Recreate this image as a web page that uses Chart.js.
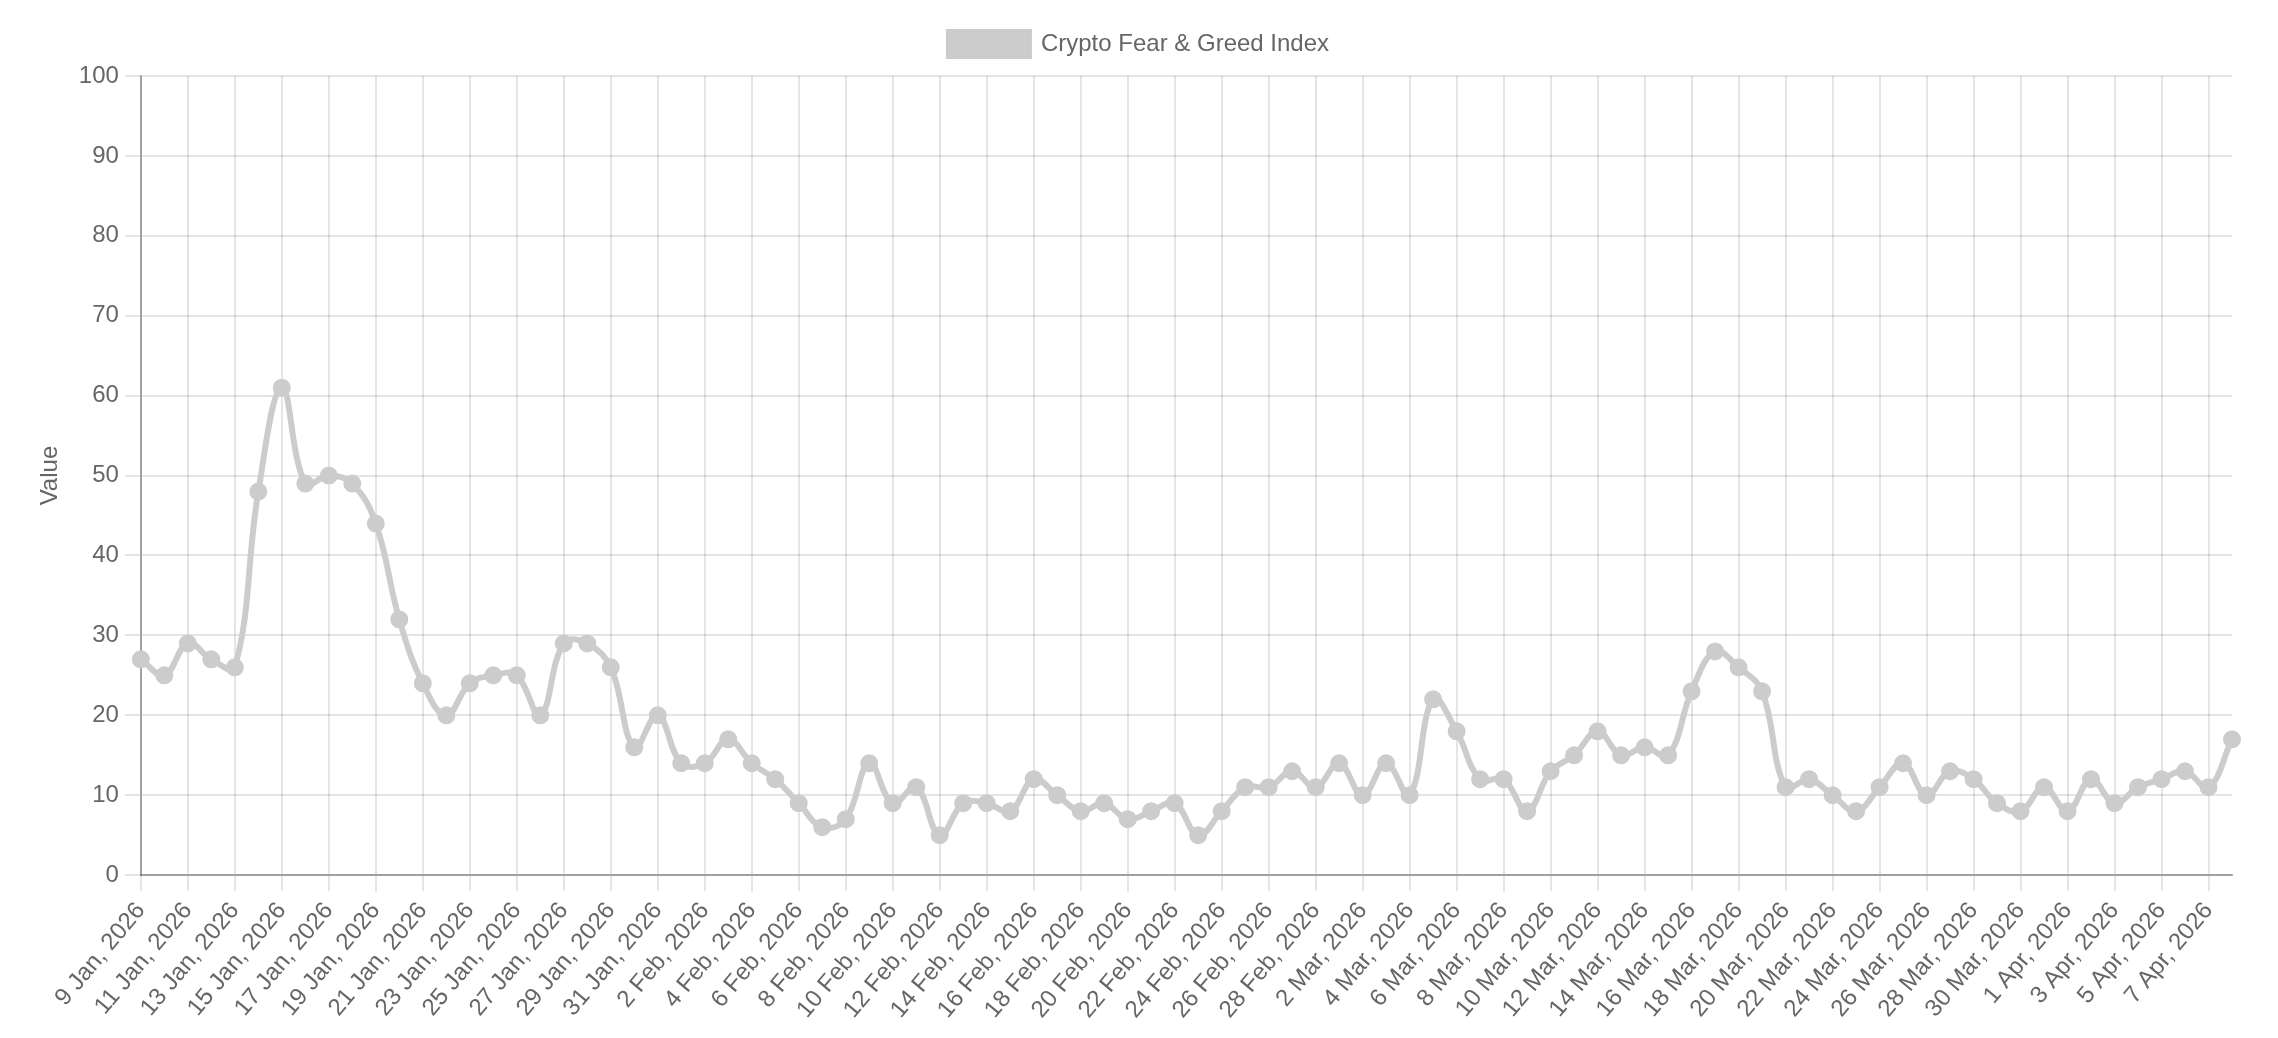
<!DOCTYPE html>
<html>
<head>
<meta charset="utf-8">
<script src="https://cdn.jsdelivr.net/npm/chart.js@4"></script>
<style>
  html, body { margin: 0; padding: 0; background: #fff; }
  body { width: 2278px; height: 1038px; position: relative; }
  #wrap { position: absolute; left: 0; top: 0; width: 1139px; height: 519px; transform: scale(2); transform-origin: 0 0; }
</style>
</head>
<body>
<div id="wrap"><canvas id="lineChart"></canvas></div>
<script>
// daily index values, 9 Jan 2026 .. 8 Apr 2026
const startDate = [2026, 0, 9]
const monthNames = ['Jan', 'Feb', 'Mar', 'Apr', 'May', 'Jun', 'Jul', 'Aug', 'Sep', 'Oct', 'Nov', 'Dec']

const fearGreed = [
  27, 25, 29, 27, 26, 48, 61, 49, 50, 49, 44, 32, 24, 20, 24, 25, 25, 20, 29, 29, 26, 16, 20,
  14, 14, 17, 14, 12, 9, 6, 7, 14, 9, 11, 5, 9, 9, 8, 12, 10, 8, 9, 7, 8, 9, 5, 8, 11, 11, 13, 11,
  14, 10, 14, 10, 22, 18, 12, 12, 8, 13, 15, 18, 15, 16, 15, 23, 28, 26, 23, 11, 12, 10, 8, 11, 14, 10, 13, 12, 9, 8, 11,
  8, 12, 9, 11, 12, 13, 11, 17
]

const yTicks = { min: 0, max: 100, step: 10 }

const labels = []
for (let i = 0; i < fearGreed.length; i++) {
  const d = new Date(startDate[0], startDate[1], startDate[2] + i)
  labels.push(d.getDate() + ' ' + monthNames[d.getMonth()] + ', ' + d.getFullYear())
}

const data = {
  labels: labels,
  datasets: [{
    label: 'Crypto Fear & Greed Index',
    data: fearGreed,
    borderColor: 'rgb(204,204,204)',
    backgroundColor: 'rgb(204,204,204)',
    borderWidth: 3,
    pointRadius: 3,
    tension: 0.4
  }]
}

// keep legend centred on the whole canvas, not the padded area
const centerLegend = {
  id: 'centerLegend',
  afterLayout(chart) {
    const lg = chart.legend
    if (!lg) return
    const shift = chart.width / 2 - (lg.left + lg.right) / 2
    lg.left += shift
    lg.right += shift
  }
}

const ctx = document.getElementById('lineChart').getContext('2d')

const myChart = new Chart(ctx, {
  type: 'line',
  data: data,
  plugins: [centerLegend],
  options: {
    responsive: true,
    maintainAspectRatio: false,
    devicePixelRatio: 2,
    animation: false,
    layout: {
      padding: { left: 14, right: 23, top: 6, bottom: 4 }
    },
    plugins: {
      legend: { display: true }
    },
    scales: {
      x: {
        ticks: { minRotation: 50, maxRotation: 50, autoSkip: true },
        border: { color: 'rgba(0,0,0,0.3)' }
      },
      y: {
        min: yTicks.min,
        max: yTicks.max,
        ticks: { stepSize: yTicks.step },
        title: { display: true, text: 'Value' },
        border: { color: 'rgba(0,0,0,0.3)' }
      }
    }
  }
})
</script>
</body>
</html>
